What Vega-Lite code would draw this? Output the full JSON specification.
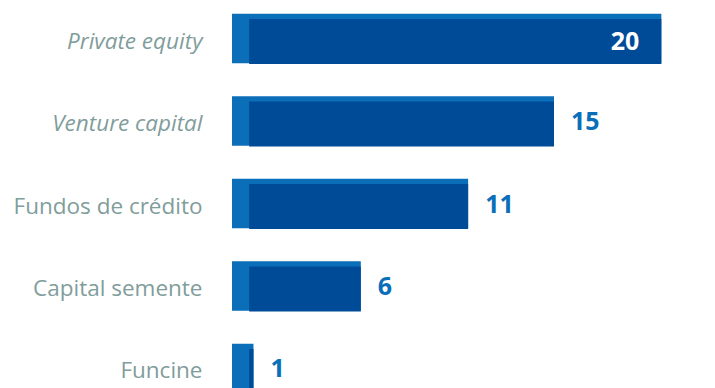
{
  "$schema": "https://vega.github.io/schema/vega-lite/v6.json",
  "autosize": "none",
  "width": 483,
  "height": 407,
  "padding": {"left": 232, "top": 0, "right": 0, "bottom": 0},
  "background": "white",
  "data": {"values": [
    {"categoria": "Private equity", "valor": 20},
    {"categoria": "Venture capital", "valor": 15},
    {"categoria": "Fundos de crédito", "valor": 11},
    {"categoria": "Capital semente", "valor": 6},
    {"categoria": "Funcine", "valor": 1}
  ]},
  "config": {"view": {"stroke": null}},
  "encoding": {
    "y": {
      "field": "categoria", "type": "nominal", "sort": null, "title": null,
      "scale": {"paddingInner": 0.4, "paddingOuter": 0.167},
      "axis": {
        "domain": false, "ticks": false, "labelPadding": 30, "labelOffset": 3,
        "labelFont": "Open Sans", "labelFontSize": 22.5, "labelColor": "#7f9d9b",
        "labelFontStyle": {"condition": {"test": "datum.value == 'Private equity' || datum.value == 'Venture capital'", "value": "italic"}, "value": "normal"},
        "labelLimit": 300
      }
    }
  },
  "layer": [
    {
      "mark": {"type": "bar", "color": "#0a6eb8"},
      "encoding": {
        "x": {"field": "valor", "type": "quantitative", "scale": {"domain": [0, 22.5], "nice": false}, "axis": null},
        "x2": {"datum": 0}
      }
    },
    {
      "mark": {"type": "bar", "color": "#004b98", "height": 45, "yOffset": 3},
      "encoding": {
        "x": {"field": "valor", "type": "quantitative"},
        "x2": {"datum": 0.8}
      }
    },
    {
      "transform": [{"filter": "datum.valor < 20"}],
      "mark": {"type": "text", "align": "left", "baseline": "middle", "dx": 17, "dy": 1, "font": "Open Sans", "fontSize": 25, "fontWeight": "bold", "color": "#0a6eb8"},
      "encoding": {
        "x": {"field": "valor", "type": "quantitative"},
        "text": {"field": "valor", "type": "quantitative"}
      }
    },
    {
      "transform": [{"filter": "datum.valor >= 20"}],
      "mark": {"type": "text", "align": "right", "baseline": "middle", "dx": -22, "dy": 3, "font": "Open Sans", "fontSize": 25, "fontWeight": "bold", "color": "white"},
      "encoding": {
        "x": {"field": "valor", "type": "quantitative"},
        "text": {"field": "valor", "type": "quantitative"}
      }
    }
  ]
}
